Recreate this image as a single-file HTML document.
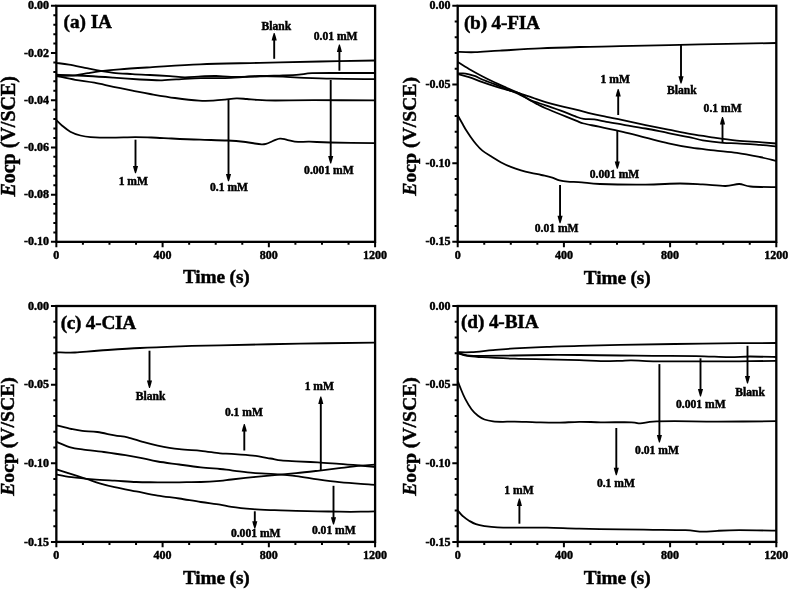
<!DOCTYPE html>
<html><head><meta charset="utf-8"><title>Eocp vs Time</title>
<style>html,body{margin:0;padding:0;background:#fff}svg{display:block;filter:blur(0.35px)}</style>
</head><body>
<svg width="789" height="590" viewBox="0 0 789 590" font-family='"Liberation Serif",serif' font-weight="bold" fill="#000" stroke="#000" stroke-width="0.45">
<rect width="789" height="590" fill="#fff" stroke="none"/>
<rect x="56.35" y="5.8" width="318.75" height="236.05" fill="none" stroke="#000" stroke-width="2.3"/>
<text x="49.05" y="9.4" font-size="12" text-anchor="end" >0.00</text>
<text x="49.05" y="56.61" font-size="12" text-anchor="end" >-0.02</text>
<text x="49.05" y="103.82" font-size="12" text-anchor="end" >-0.04</text>
<text x="49.05" y="151.03" font-size="12" text-anchor="end" >-0.06</text>
<text x="49.05" y="198.24" font-size="12" text-anchor="end" >-0.08</text>
<text x="49.05" y="245.45" font-size="12" text-anchor="end" >-0.10</text>
<text x="56.35" y="258.75" font-size="12" text-anchor="middle" >0</text>
<text x="162.6" y="258.75" font-size="12" text-anchor="middle" >400</text>
<text x="268.85" y="258.75" font-size="12" text-anchor="middle" >800</text>
<text x="375.1" y="258.75" font-size="12" text-anchor="middle" >1200</text>
<path d="M50.95,5.80H56.35 M53.35,15.24H56.35 M53.35,24.68H56.35 M53.35,34.13H56.35 M53.35,43.57H56.35 M50.95,53.01H56.35 M53.35,62.45H56.35 M53.35,71.89H56.35 M53.35,81.34H56.35 M53.35,90.78H56.35 M50.95,100.22H56.35 M53.35,109.66H56.35 M53.35,119.10H56.35 M53.35,128.55H56.35 M53.35,137.99H56.35 M50.95,147.43H56.35 M53.35,156.87H56.35 M53.35,166.31H56.35 M53.35,175.76H56.35 M53.35,185.20H56.35 M50.95,194.64H56.35 M53.35,204.08H56.35 M53.35,213.52H56.35 M53.35,222.97H56.35 M53.35,232.41H56.35 M50.95,241.85H56.35 M56.35,241.85V247.25 M82.91,241.85V244.85 M109.47,241.85V244.85 M136.04,241.85V244.85 M162.60,241.85V247.25 M189.16,241.85V244.85 M215.72,241.85V244.85 M242.29,241.85V244.85 M268.85,241.85V247.25 M295.41,241.85V244.85 M321.98,241.85V244.85 M348.54,241.85V244.85 M375.10,241.85V247.25" stroke="#000" stroke-width="2.0" fill="none"/>
<text x="216.23" y="282.75" font-size="19.3" text-anchor="middle" letter-spacing="-0.12">Time (s)</text>
<text transform="translate(14.55,136.325) rotate(-90)" font-size="20" text-anchor="middle"><tspan font-style="italic">E</tspan>ocp (V/SCE)</text>
<text x="63.55" y="27.7" font-size="19.3" text-anchor="start" letter-spacing="-0.05">(a) IA</text>
<path d="M56.4,76.0 C59.5,75.9 70.0,75.8 75.3,75.3 C80.6,74.8 83.8,73.8 88.0,73.1 C92.2,72.4 95.4,71.8 100.7,71.2 C106.0,70.6 111.5,70.0 119.7,69.3 C127.9,68.6 136.6,68.1 150.0,67.3 C163.4,66.5 181.7,65.0 200.0,64.3 C218.3,63.5 240.0,63.3 260.0,62.8 C280.0,62.3 300.8,61.9 320.0,61.5 C339.2,61.1 365.9,60.7 375.1,60.5" fill="none" stroke="#000" stroke-width="1.8" stroke-linejoin="round"/>
<path d="M56.4,62.9 C58.5,63.2 63.7,63.7 69.0,64.6 C74.3,65.5 82.7,67.4 88.0,68.4 C93.3,69.5 96.5,70.2 100.7,70.9 C104.9,71.6 108.1,72.3 113.4,72.8 C118.7,73.3 126.3,73.7 132.4,74.1 C138.5,74.5 143.7,74.7 150.0,75.0 C156.3,75.3 164.2,75.8 170.0,76.2 C175.8,76.6 179.8,77.3 185.0,77.3 C190.2,77.3 195.8,76.6 201.0,76.4 C206.2,76.2 211.0,75.9 216.0,76.0 C221.0,76.1 225.3,76.7 231.0,76.8 C236.7,76.9 241.3,76.8 250.0,76.6 C258.7,76.4 274.8,75.7 283.0,75.4 C291.2,75.1 294.2,75.0 299.0,74.6 C303.8,74.2 305.2,73.5 312.0,73.2 C318.8,72.9 329.5,73.0 340.0,73.0 C350.5,73.0 369.2,73.0 375.1,73.0" fill="none" stroke="#000" stroke-width="1.8" stroke-linejoin="round"/>
<path d="M56.4,74.7 C61.6,74.9 78.5,75.5 88.0,76.0 C97.5,76.5 104.7,77.0 113.4,77.6 C122.1,78.2 131.9,79.0 140.0,79.5 C148.1,80.0 154.5,80.4 162.0,80.3 C169.5,80.2 178.5,79.1 185.0,78.8 C191.5,78.5 195.8,78.3 201.0,78.2 C206.2,78.1 211.0,78.3 216.0,78.2 C221.0,78.1 226.2,78.0 231.0,77.8 C235.8,77.6 240.2,77.1 245.0,76.8 C249.8,76.5 253.7,76.0 260.0,76.0 C266.3,76.0 276.5,76.3 283.0,76.6 C289.5,76.9 290.8,77.2 299.0,77.6 C307.2,77.9 319.3,78.4 332.0,78.7 C344.7,79.0 367.9,79.1 375.1,79.2" fill="none" stroke="#000" stroke-width="1.8" stroke-linejoin="round"/>
<path d="M56.4,76.0 C59.5,76.6 69.0,78.7 75.3,79.8 C81.6,80.9 88.1,81.5 94.4,82.7 C100.8,83.9 107.1,85.5 113.4,86.8 C119.7,88.1 126.3,89.4 132.4,90.6 C138.5,91.8 142.9,92.8 150.0,94.0 C157.1,95.2 166.8,96.9 175.0,98.0 C183.2,99.1 192.7,100.2 199.0,100.6 C205.3,101.0 208.7,100.8 213.0,100.6 C217.3,100.4 221.1,100.0 225.0,99.6 C228.9,99.2 232.8,98.5 236.5,98.4 C240.2,98.3 243.6,98.8 247.0,99.0 C250.4,99.2 252.3,99.7 257.0,99.9 C261.7,100.2 265.8,100.5 275.3,100.5 C284.8,100.5 297.4,100.2 314.0,100.2 C330.6,100.2 364.9,100.3 375.1,100.3" fill="none" stroke="#000" stroke-width="1.8" stroke-linejoin="round"/>
<path d="M56.4,120.2 C57.3,121.1 59.9,123.8 62.2,125.7 C64.5,127.6 67.3,130.1 70.3,131.7 C73.3,133.3 77.0,134.6 80.4,135.5 C83.8,136.4 85.5,136.8 90.6,137.1 C95.7,137.4 103.4,137.6 110.8,137.6 C118.2,137.6 128.4,137.1 135.2,137.1 C142.0,137.1 145.3,137.3 151.4,137.5 C157.5,137.7 163.6,138.1 171.7,138.5 C179.8,138.9 190.7,139.4 200.0,139.7 C209.3,140.0 219.8,140.1 227.4,140.5 C235.0,140.9 241.0,141.5 245.6,142.0 C250.2,142.5 252.1,143.1 254.8,143.5 C257.5,143.9 259.7,144.2 261.6,144.3 C263.5,144.4 264.5,144.2 266.0,143.8 C267.5,143.4 269.1,142.7 270.7,142.0 C272.3,141.3 274.0,140.5 275.5,139.9 C277.0,139.3 278.4,138.8 279.9,138.7 C281.4,138.6 283.0,138.8 284.5,139.1 C286.0,139.4 286.7,139.8 289.0,140.3 C291.3,140.8 294.7,141.7 298.1,141.9 C301.5,142.1 304.2,141.6 309.5,141.7 C314.8,141.8 319.1,142.2 330.0,142.5 C340.9,142.8 367.6,143.1 375.1,143.2" fill="none" stroke="#000" stroke-width="1.8" stroke-linejoin="round"/>
<line x1="274.2" y1="58.8" x2="274.2" y2="39.40" stroke="#000" stroke-width="1.9"/><path d="M271.65,40.40L276.75,40.40Q275.78,36.33 274.65,33.00L273.75,33.00Q272.62,36.33 271.65,40.40Z" fill="#000" stroke="none"/>
<line x1="339.4" y1="70.7" x2="339.4" y2="51.00" stroke="#000" stroke-width="1.9"/><path d="M336.85,52.00L341.95,52.00Q340.98,47.93 339.85,44.60L338.95,44.60Q337.82,47.93 336.85,52.00Z" fill="#000" stroke="none"/>
<line x1="135.5" y1="139.7" x2="135.5" y2="166.90" stroke="#000" stroke-width="1.9"/><path d="M132.95,165.90L138.05,165.90Q137.08,169.97 135.95,173.30L135.05,173.30Q133.92,169.97 132.95,165.90Z" fill="#000" stroke="none"/>
<line x1="228.5" y1="100" x2="228.5" y2="174.90" stroke="#000" stroke-width="1.9"/><path d="M225.95,173.90L231.05,173.90Q230.08,177.97 228.95,181.30L228.05,181.30Q226.92,177.97 225.95,173.90Z" fill="#000" stroke="none"/>
<line x1="330.7" y1="80" x2="330.7" y2="157.00" stroke="#000" stroke-width="1.9"/><path d="M328.15,156.00L333.25,156.00Q332.28,160.07 331.15,163.40L330.25,163.40Q329.12,160.07 328.15,156.00Z" fill="#000" stroke="none"/>
<text x="276.3" y="30.0" font-size="11.6" text-anchor="middle" >Blank</text>
<text x="335.6" y="39.6" font-size="11.6" text-anchor="middle" >0.01 mM</text>
<text x="133.3" y="184.9" font-size="11.6" text-anchor="middle" >1 mM</text>
<text x="229" y="191.3" font-size="11.6" text-anchor="middle" >0.1 mM</text>
<text x="328.9" y="174.3" font-size="11.6" text-anchor="middle" >0.001 mM</text>
<rect x="457.7" y="5.8" width="318.60" height="236.05" fill="none" stroke="#000" stroke-width="2.3"/>
<text x="450.4" y="9.4" font-size="12" text-anchor="end" >0.00</text>
<text x="450.4" y="88.08" font-size="12" text-anchor="end" >-0.05</text>
<text x="450.4" y="166.77" font-size="12" text-anchor="end" >-0.10</text>
<text x="450.4" y="245.45" font-size="12" text-anchor="end" >-0.15</text>
<text x="457.7" y="258.75" font-size="12" text-anchor="middle" >0</text>
<text x="563.9" y="258.75" font-size="12" text-anchor="middle" >400</text>
<text x="670.1" y="258.75" font-size="12" text-anchor="middle" >800</text>
<text x="776.3" y="258.75" font-size="12" text-anchor="middle" >1200</text>
<path d="M452.3,5.80H457.7 M454.7,21.54H457.7 M454.7,37.27H457.7 M454.7,53.01H457.7 M454.7,68.75H457.7 M452.3,84.48H457.7 M454.7,100.22H457.7 M454.7,115.96H457.7 M454.7,131.69H457.7 M454.7,147.43H457.7 M452.3,163.17H457.7 M454.7,178.90H457.7 M454.7,194.64H457.7 M454.7,210.38H457.7 M454.7,226.11H457.7 M452.3,241.85H457.7 M457.70,241.85V247.25 M484.25,241.85V244.85 M510.80,241.85V244.85 M537.35,241.85V244.85 M563.90,241.85V247.25 M590.45,241.85V244.85 M617.00,241.85V244.85 M643.55,241.85V244.85 M670.10,241.85V247.25 M696.65,241.85V244.85 M723.20,241.85V244.85 M749.75,241.85V244.85 M776.30,241.85V247.25" stroke="#000" stroke-width="2.0" fill="none"/>
<text x="617.2" y="284.05" font-size="19.3" text-anchor="middle" letter-spacing="-0.12">Time (s)</text>
<text transform="translate(416.2,136.325) rotate(-90)" font-size="19.7" text-anchor="middle"><tspan font-style="italic">E</tspan>ocp (V/SCE)</text>
<text x="463.9" y="28.7" font-size="19.3" text-anchor="start" letter-spacing="-0.2">(b) 4-FIA</text>
<path d="M457.7,51.9 C460.6,52.0 467.9,52.4 475.0,52.2 C482.1,52.0 489.2,51.2 500.0,50.6 C510.8,50.0 526.7,49.0 540.0,48.4 C553.3,47.8 566.7,47.4 580.0,47.0 C593.3,46.6 600.0,46.6 620.0,46.2 C640.0,45.8 674.0,44.9 700.0,44.4 C726.0,43.9 763.6,43.2 776.3,43.0" fill="none" stroke="#000" stroke-width="1.8" stroke-linejoin="round"/>
<path d="M457.7,74.0 C459.6,74.5 465.0,75.9 469.0,77.2 C473.0,78.5 477.5,80.4 481.7,81.9 C485.9,83.4 490.2,84.8 494.4,86.1 C498.6,87.4 502.8,88.7 507.0,89.9 C511.2,91.1 515.5,92.0 519.7,93.3 C523.9,94.6 528.1,96.1 532.4,97.6 C536.7,99.1 540.9,100.8 545.6,102.2 C550.3,103.6 555.7,105.0 560.8,106.2 C565.9,107.4 570.9,108.4 576.0,109.6 C581.1,110.8 586.2,112.4 591.3,113.6 C596.4,114.8 601.2,115.7 606.5,116.8 C611.8,117.9 616.3,118.7 622.8,120.1 C629.3,121.5 638.0,123.5 645.6,125.1 C653.2,126.7 660.8,128.2 668.4,129.7 C676.0,131.2 683.7,132.9 691.3,134.2 C698.9,135.5 706.4,136.5 714.0,137.6 C721.6,138.7 729.3,139.8 736.9,140.6 C744.5,141.4 753.1,141.7 759.7,142.2 C766.3,142.7 773.5,143.3 776.3,143.5" fill="none" stroke="#000" stroke-width="1.8" stroke-linejoin="round"/>
<path d="M457.7,73.4 C458.6,73.4 461.1,73.2 463.0,73.3 C464.9,73.4 466.9,73.8 469.0,74.3 C471.1,74.8 473.2,75.3 475.3,76.1 C477.4,76.9 478.5,77.8 481.7,79.2 C484.9,80.6 490.2,82.5 494.4,84.2 C498.6,85.9 502.8,87.6 507.0,89.3 C511.2,91.0 515.8,92.8 519.7,94.6 C523.6,96.4 526.1,98.3 530.4,100.1 C534.7,101.9 540.5,103.6 545.6,105.4 C550.7,107.2 555.7,108.8 560.8,110.7 C565.9,112.6 572.2,115.2 576.0,116.6 C579.8,118.0 580.7,118.4 583.7,118.9 C586.8,119.4 590.5,118.9 594.3,119.4 C598.1,119.9 601.8,120.9 606.5,121.8 C611.2,122.7 616.3,123.5 622.8,124.6 C629.3,125.7 638.0,127.1 645.6,128.5 C653.2,129.9 660.8,131.6 668.4,133.1 C676.0,134.6 685.6,136.4 691.3,137.6 C697.0,138.8 697.4,139.5 702.7,140.4 C708.0,141.3 717.5,142.4 723.2,142.9 C728.9,143.4 730.8,143.0 736.9,143.3 C743.0,143.6 753.1,144.4 759.7,144.9 C766.3,145.4 773.5,146.2 776.3,146.5" fill="none" stroke="#000" stroke-width="1.8" stroke-linejoin="round"/>
<path d="M457.7,62.0 C459.6,63.2 465.0,66.7 469.0,69.0 C473.0,71.3 477.5,73.8 481.7,76.0 C485.9,78.2 490.2,80.3 494.4,82.3 C498.6,84.3 502.8,86.1 507.0,88.0 C511.2,89.9 515.8,91.5 519.7,93.6 C523.6,95.7 527.4,98.7 530.4,100.5 C533.4,102.3 535.5,103.2 538.0,104.5 C540.5,105.8 541.8,106.6 545.6,108.3 C549.4,110.0 555.7,112.5 560.8,114.5 C565.9,116.5 572.2,119.1 576.0,120.6 C579.8,122.1 579.9,122.5 583.7,123.5 C587.5,124.5 592.4,125.3 598.9,126.7 C605.4,128.1 615.0,130.1 622.8,131.9 C630.6,133.7 638.0,135.7 645.6,137.6 C653.2,139.5 660.8,141.6 668.4,143.3 C676.0,145.0 683.7,146.5 691.3,147.7 C698.9,148.9 706.4,149.5 714.0,150.4 C721.6,151.3 729.3,151.8 736.9,152.9 C744.5,154.0 753.1,155.7 759.7,157.0 C766.3,158.3 773.5,160.2 776.3,160.8" fill="none" stroke="#000" stroke-width="1.8" stroke-linejoin="round"/>
<path d="M457.7,115.2 C458.4,116.5 460.8,120.8 462.2,123.3 C463.6,125.8 464.8,128.1 466.2,130.3 C467.6,132.5 468.6,134.0 470.3,136.4 C472.0,138.8 474.4,142.1 476.4,144.5 C478.4,146.9 480.0,148.7 482.4,150.6 C484.8,152.5 487.6,154.2 490.6,156.1 C493.7,158.0 497.3,160.4 500.7,162.2 C504.1,164.0 507.4,165.6 510.8,166.9 C514.2,168.2 517.6,169.3 521.0,170.3 C524.4,171.3 527.7,172.1 531.1,172.9 C534.5,173.7 537.9,174.2 541.3,175.0 C544.7,175.8 548.4,176.5 551.4,177.4 C554.4,178.3 556.8,179.7 559.5,180.4 C562.2,181.1 563.9,181.4 567.6,181.7 C571.3,182.0 576.4,181.9 581.8,182.3 C587.2,182.7 589.4,183.6 600.0,184.0 C610.6,184.4 632.3,184.7 645.6,184.6 C658.9,184.5 670.5,183.5 680.0,183.5 C689.5,183.5 695.1,184.0 702.7,184.4 C710.3,184.8 719.4,186.1 725.5,186.0 C731.6,185.9 735.0,183.9 739.2,184.0 C743.4,184.1 744.4,186.0 750.6,186.5 C756.8,187.0 772.0,187.1 776.3,187.2" fill="none" stroke="#000" stroke-width="1.8" stroke-linejoin="round"/>
<line x1="618.2" y1="115" x2="618.2" y2="95.50" stroke="#000" stroke-width="1.9"/><path d="M615.65,96.50L620.75,96.50Q619.78,92.43 618.65,89.10L617.75,89.10Q616.62,92.43 615.65,96.50Z" fill="#000" stroke="none"/>
<line x1="681" y1="45" x2="681" y2="77.20" stroke="#000" stroke-width="1.9"/><path d="M678.45,76.20L683.55,76.20Q682.58,80.27 681.45,83.60L680.55,83.60Q679.42,80.27 678.45,76.20Z" fill="#000" stroke="none"/>
<line x1="722.5" y1="142.9" x2="722.5" y2="123.50" stroke="#000" stroke-width="1.9"/><path d="M719.95,124.50L725.05,124.50Q724.08,120.43 722.95,117.10L722.05,117.10Q720.92,120.43 719.95,124.50Z" fill="#000" stroke="none"/>
<line x1="617.3" y1="130.2" x2="617.3" y2="162.40" stroke="#000" stroke-width="1.9"/><path d="M614.75,161.40L619.85,161.40Q618.88,165.47 617.75,168.80L616.85,168.80Q615.72,165.47 614.75,161.40Z" fill="#000" stroke="none"/>
<line x1="560.05" y1="184.9" x2="560.05" y2="216.80" stroke="#000" stroke-width="1.9"/><path d="M557.50,215.80L562.60,215.80Q561.63,219.87 560.50,223.20L559.60,223.20Q558.47,219.87 557.50,215.80Z" fill="#000" stroke="none"/>
<text x="615.2" y="83.2" font-size="11.6" text-anchor="middle" >1 mM</text>
<text x="681.8" y="94.0" font-size="11.6" text-anchor="middle" >Blank</text>
<text x="722.6" y="112.0" font-size="11.6" text-anchor="middle" >0.1 mM</text>
<text x="614.5" y="178.2" font-size="11.6" text-anchor="middle" >0.001 mM</text>
<text x="556.6" y="231.6" font-size="11.6" text-anchor="middle" >0.01 mM</text>
<rect x="56.35" y="306.0" width="318.75" height="235.90" fill="none" stroke="#000" stroke-width="2.3"/>
<text x="49.05" y="309.6" font-size="12" text-anchor="end" >0.00</text>
<text x="49.05" y="388.23" font-size="12" text-anchor="end" >-0.05</text>
<text x="49.05" y="466.87" font-size="12" text-anchor="end" >-0.10</text>
<text x="49.05" y="545.5" font-size="12" text-anchor="end" >-0.15</text>
<text x="56.35" y="558.8" font-size="12" text-anchor="middle" >0</text>
<text x="162.6" y="558.8" font-size="12" text-anchor="middle" >400</text>
<text x="268.85" y="558.8" font-size="12" text-anchor="middle" >800</text>
<text x="375.1" y="558.8" font-size="12" text-anchor="middle" >1200</text>
<path d="M50.95,306.00H56.35 M53.35,321.73H56.35 M53.35,337.45H56.35 M53.35,353.18H56.35 M53.35,368.91H56.35 M50.95,384.63H56.35 M53.35,400.36H56.35 M53.35,416.09H56.35 M53.35,431.81H56.35 M53.35,447.54H56.35 M50.95,463.27H56.35 M53.35,478.99H56.35 M53.35,494.72H56.35 M53.35,510.45H56.35 M53.35,526.17H56.35 M50.95,541.90H56.35 M56.35,541.9V547.3 M82.91,541.9V544.9 M109.47,541.9V544.9 M136.04,541.9V544.9 M162.60,541.9V547.3 M189.16,541.9V544.9 M215.72,541.9V544.9 M242.29,541.9V544.9 M268.85,541.9V547.3 M295.41,541.9V544.9 M321.98,541.9V544.9 M348.54,541.9V544.9 M375.10,541.9V547.3" stroke="#000" stroke-width="2.0" fill="none"/>
<text x="216.23" y="584.1" font-size="19.3" text-anchor="middle" letter-spacing="-0.12">Time (s)</text>
<text transform="translate(14.15,436.45) rotate(-90)" font-size="19.7" text-anchor="middle"><tspan font-style="italic">E</tspan>ocp (V/SCE)</text>
<text x="60.65" y="328.6" font-size="19.3" text-anchor="start" letter-spacing="-0.25">(c) 4-CIA</text>
<path d="M56.4,352.3 C59.5,352.3 67.7,352.8 75.0,352.5 C82.3,352.2 89.2,351.2 100.0,350.5 C110.8,349.8 126.7,348.7 140.0,348.0 C153.3,347.3 166.7,346.8 180.0,346.3 C193.3,345.9 200.0,345.7 220.0,345.3 C240.0,344.9 274.1,344.1 300.0,343.7 C325.9,343.2 362.6,342.8 375.1,342.6" fill="none" stroke="#000" stroke-width="1.8" stroke-linejoin="round"/>
<path d="M56.4,425.3 C58.9,425.9 67.2,428.1 71.5,429.0 C75.8,429.9 78.0,430.4 82.3,430.9 C86.6,431.4 92.0,431.2 97.4,432.0 C102.8,432.8 109.6,434.5 114.6,435.4 C119.6,436.3 122.9,436.3 127.6,437.4 C132.3,438.5 137.7,440.5 142.7,441.9 C147.7,443.3 151.6,444.4 157.7,445.6 C163.8,446.8 172.1,448.3 179.3,449.2 C186.5,450.1 194.0,450.2 200.8,450.9 C207.6,451.6 214.9,452.8 220.0,453.3 C225.1,453.8 226.0,453.5 231.5,453.9 C237.0,454.3 246.6,454.9 253.1,455.7 C259.6,456.5 265.6,457.7 270.3,458.5 C275.0,459.3 276.8,459.9 281.1,460.4 C285.4,460.9 290.1,461.0 296.2,461.3 C302.3,461.6 310.5,462.0 317.7,462.4 C324.9,462.8 332.1,463.4 339.3,463.9 C346.5,464.4 354.8,465.1 360.8,465.6 C366.8,466.1 372.7,466.8 375.1,467.0" fill="none" stroke="#000" stroke-width="1.8" stroke-linejoin="round"/>
<path d="M56.4,441.8 C58.9,442.8 67.2,446.4 71.5,447.7 C75.8,449.0 76.9,448.7 82.3,449.4 C87.7,450.1 96.7,451.0 103.9,452.0 C111.1,453.0 119.3,454.2 125.4,455.2 C131.5,456.2 135.1,456.8 140.5,457.8 C145.9,458.9 151.2,460.4 157.7,461.5 C164.2,462.6 172.1,463.5 179.3,464.5 C186.5,465.5 194.0,466.6 200.8,467.3 C207.6,468.1 214.9,468.5 220.0,469.0 C225.1,469.5 226.0,469.7 231.5,470.3 C237.0,470.9 245.9,472.2 253.1,472.9 C260.3,473.5 267.4,473.7 274.6,474.2 C281.8,474.7 289.0,475.2 296.2,476.1 C303.4,477.0 310.5,478.4 317.7,479.4 C324.9,480.4 332.1,481.4 339.3,482.2 C346.5,482.9 354.8,483.5 360.8,483.9 C366.8,484.3 372.7,484.6 375.1,484.8" fill="none" stroke="#000" stroke-width="1.8" stroke-linejoin="round"/>
<path d="M56.4,474.4 C58.9,474.9 65.4,476.4 71.5,477.2 C77.6,478.0 85.9,478.8 93.1,479.4 C100.3,480.0 107.4,480.3 114.6,480.7 C121.8,481.1 129.0,481.7 136.2,482.0 C143.4,482.3 150.5,482.2 157.7,482.3 C164.9,482.4 172.1,482.4 179.3,482.3 C186.5,482.2 194.0,482.2 200.8,482.0 C207.6,481.8 214.9,481.3 220.0,480.9 C225.1,480.5 226.0,480.1 231.5,479.5 C237.0,478.9 245.9,477.9 253.1,477.2 C260.3,476.5 267.4,475.8 274.6,475.1 C281.8,474.4 289.0,473.8 296.2,473.1 C303.4,472.4 310.5,471.6 317.7,470.8 C324.9,470.0 332.1,469.1 339.3,468.2 C346.5,467.3 354.8,466.2 360.8,465.6 C366.8,465.0 372.7,464.8 375.1,464.6" fill="none" stroke="#000" stroke-width="1.8" stroke-linejoin="round"/>
<path d="M56.4,469.4 C58.9,470.2 66.5,472.6 71.5,474.2 C76.5,475.8 81.9,477.5 86.6,479.0 C91.3,480.5 94.9,481.9 99.6,483.3 C104.3,484.7 108.5,485.8 114.6,487.1 C120.7,488.5 129.0,490.0 136.2,491.4 C143.4,492.8 150.5,494.4 157.7,495.6 C164.9,496.8 172.1,497.4 179.3,498.5 C186.5,499.6 194.0,501.0 200.8,502.0 C207.6,503.0 214.9,503.8 220.0,504.6 C225.1,505.4 226.0,506.1 231.5,506.8 C237.0,507.6 245.9,508.5 253.1,509.1 C260.3,509.7 267.4,509.9 274.6,510.2 C281.8,510.5 289.0,510.6 296.2,510.8 C303.4,511.0 310.5,511.2 317.7,511.3 C324.9,511.4 332.1,511.6 339.3,511.7 C346.5,511.8 354.8,511.8 360.8,511.7 C366.8,511.6 372.7,511.4 375.1,511.3" fill="none" stroke="#000" stroke-width="1.8" stroke-linejoin="round"/>
<line x1="149.5" y1="350.7" x2="149.5" y2="381.50" stroke="#000" stroke-width="1.9"/><path d="M146.95,380.50L152.05,380.50Q151.08,384.57 149.95,387.90L149.05,387.90Q147.92,384.57 146.95,380.50Z" fill="#000" stroke="none"/>
<line x1="244.3" y1="450.5" x2="244.3" y2="430.40" stroke="#000" stroke-width="1.9"/><path d="M241.75,431.40L246.85,431.40Q245.88,427.33 244.75,424.00L243.85,424.00Q242.72,427.33 241.75,431.40Z" fill="#000" stroke="none"/>
<line x1="320.8" y1="470.5" x2="320.8" y2="403.00" stroke="#000" stroke-width="1.9"/><path d="M318.25,404.00L323.35,404.00Q322.38,399.93 321.25,396.60L320.35,396.60Q319.22,399.93 318.25,404.00Z" fill="#000" stroke="none"/>
<line x1="333.5" y1="485.8" x2="333.5" y2="518.20" stroke="#000" stroke-width="1.9"/><path d="M330.95,517.20L336.05,517.20Q335.08,521.27 333.95,524.60L333.05,524.60Q331.92,521.27 330.95,517.20Z" fill="#000" stroke="none"/>
<line x1="254.8" y1="511.3" x2="254.8" y2="522.20" stroke="#000" stroke-width="1.9"/><path d="M252.25,521.20L257.35,521.20Q256.38,525.27 255.25,528.60L254.35,528.60Q253.22,525.27 252.25,521.20Z" fill="#000" stroke="none"/>
<text x="150.6" y="399.9" font-size="11.6" text-anchor="middle" >Blank</text>
<text x="243.9" y="416.2" font-size="11.6" text-anchor="middle" >0.1 mM</text>
<text x="319.3" y="390.4" font-size="11.6" text-anchor="middle" >1 mM</text>
<text x="333.8" y="534.3" font-size="11.6" text-anchor="middle" >0.01 mM</text>
<text x="255.7" y="536.9" font-size="11.6" text-anchor="middle" >0.001 mM</text>
<rect x="457.7" y="306.0" width="318.60" height="235.90" fill="none" stroke="#000" stroke-width="2.3"/>
<text x="450.4" y="309.6" font-size="12" text-anchor="end" >0.00</text>
<text x="450.4" y="388.23" font-size="12" text-anchor="end" >-0.05</text>
<text x="450.4" y="466.87" font-size="12" text-anchor="end" >-0.10</text>
<text x="450.4" y="545.5" font-size="12" text-anchor="end" >-0.15</text>
<text x="457.7" y="558.8" font-size="12" text-anchor="middle" >0</text>
<text x="563.9" y="558.8" font-size="12" text-anchor="middle" >400</text>
<text x="670.1" y="558.8" font-size="12" text-anchor="middle" >800</text>
<text x="776.3" y="558.8" font-size="12" text-anchor="middle" >1200</text>
<path d="M452.3,306.00H457.7 M454.7,321.73H457.7 M454.7,337.45H457.7 M454.7,353.18H457.7 M454.7,368.91H457.7 M452.3,384.63H457.7 M454.7,400.36H457.7 M454.7,416.09H457.7 M454.7,431.81H457.7 M454.7,447.54H457.7 M452.3,463.27H457.7 M454.7,478.99H457.7 M454.7,494.72H457.7 M454.7,510.45H457.7 M454.7,526.17H457.7 M452.3,541.90H457.7 M457.70,541.9V547.3 M484.25,541.9V544.9 M510.80,541.9V544.9 M537.35,541.9V544.9 M563.90,541.9V547.3 M590.45,541.9V544.9 M617.00,541.9V544.9 M643.55,541.9V544.9 M670.10,541.9V547.3 M696.65,541.9V544.9 M723.20,541.9V544.9 M749.75,541.9V544.9 M776.30,541.9V547.3" stroke="#000" stroke-width="2.0" fill="none"/>
<text x="617.2" y="584.1" font-size="19.3" text-anchor="middle" letter-spacing="-0.12">Time (s)</text>
<text transform="translate(416.2,436.45) rotate(-90)" font-size="19.7" text-anchor="middle"><tspan font-style="italic">E</tspan>ocp (V/SCE)</text>
<text x="461.1" y="327.8" font-size="19.3" text-anchor="start" letter-spacing="-0.15">(d) 4-BIA</text>
<path d="M457.7,352.2 C460.0,352.2 465.6,352.5 471.5,352.2 C477.4,351.9 485.9,350.7 493.1,350.1 C500.3,349.5 505.6,348.9 514.6,348.4 C523.6,347.9 536.2,347.3 547.0,346.9 C557.8,346.5 567.1,346.1 579.3,345.8 C591.5,345.5 604.1,345.2 620.0,344.9 C635.9,344.6 654.7,344.3 674.6,344.0 C694.5,343.7 722.3,343.4 739.3,343.2 C756.2,343.0 770.1,343.0 776.3,343.0" fill="none" stroke="#000" stroke-width="1.8" stroke-linejoin="round"/>
<path d="M457.7,353.0 C459.3,353.4 463.1,354.8 467.2,355.3 C471.3,355.8 474.4,355.9 482.3,355.9 C490.2,355.9 503.8,355.6 514.6,355.5 C525.4,355.4 536.2,355.1 547.0,355.0 C557.8,354.9 567.1,354.9 579.3,355.0 C591.5,355.1 607.7,355.4 620.0,355.5 C632.3,355.6 640.4,355.8 653.1,355.9 C665.8,356.0 683.6,355.9 696.2,356.1 C708.8,356.3 719.5,357.1 728.5,357.2 C737.5,357.3 742.0,356.5 750.0,356.5 C758.0,356.5 771.9,356.9 776.3,357.0" fill="none" stroke="#000" stroke-width="1.8" stroke-linejoin="round"/>
<path d="M457.7,353.0 C459.3,353.5 463.1,355.2 467.2,355.9 C471.3,356.6 474.4,356.7 482.3,357.2 C490.2,357.7 503.8,358.3 514.6,358.7 C525.4,359.1 536.2,359.1 547.0,359.3 C557.8,359.6 570.3,359.9 579.3,360.2 C588.3,360.5 594.0,361.0 600.8,361.1 C607.6,361.2 614.9,361.0 620.0,360.9 C625.1,360.8 626.0,360.3 631.5,360.4 C637.0,360.5 642.3,361.1 653.1,361.3 C663.9,361.5 681.8,361.3 696.2,361.3 C710.6,361.3 725.9,361.4 739.3,361.3 C752.6,361.2 770.1,361.0 776.3,360.9" fill="none" stroke="#000" stroke-width="1.8" stroke-linejoin="round"/>
<path d="M457.7,380.7 C458.2,382.1 459.6,385.9 460.8,388.9 C462.0,391.9 463.3,395.2 465.1,398.6 C466.9,402.0 469.4,406.4 471.5,409.3 C473.6,412.2 475.8,414.1 478.0,415.8 C480.2,417.5 482.0,418.6 484.5,419.5 C487.0,420.4 490.0,421.0 493.1,421.4 C496.2,421.8 499.4,421.8 503.0,421.8 C506.6,421.8 509.1,421.5 514.6,421.6 C520.1,421.7 529.0,422.1 536.2,422.3 C543.4,422.5 550.5,422.8 557.7,422.7 C564.9,422.6 572.1,421.9 579.3,421.8 C586.5,421.7 592.1,422.2 600.8,422.3 C609.5,422.4 624.9,422.1 631.5,422.3 C638.1,422.5 636.6,423.5 640.2,423.4 C643.8,423.3 647.4,422.0 653.1,421.6 C658.8,421.2 663.8,421.2 674.6,421.2 C685.4,421.2 700.8,421.6 717.7,421.6 C734.7,421.6 766.5,421.3 776.3,421.2" fill="none" stroke="#000" stroke-width="1.8" stroke-linejoin="round"/>
<path d="M457.7,510.4 C458.6,511.4 460.9,514.5 462.9,516.2 C464.8,518.0 467.2,519.6 469.4,520.9 C471.6,522.2 473.4,523.3 475.9,524.2 C478.4,525.1 480.9,525.6 484.5,526.1 C488.1,526.6 491.6,527.1 497.4,527.4 C503.1,527.7 510.7,527.7 519.0,527.7 C527.3,527.8 537.0,527.5 547.0,527.7 C557.0,527.9 567.1,528.4 579.3,528.7 C591.5,529.0 607.7,529.2 620.0,529.4 C632.3,529.6 642.2,529.7 653.1,529.8 C664.0,529.9 677.1,529.9 685.4,530.2 C693.7,530.5 697.3,531.6 702.7,531.7 C708.1,531.8 711.6,531.0 717.7,530.8 C723.8,530.5 729.5,530.2 739.3,530.2 C749.1,530.2 770.1,530.6 776.3,530.7" fill="none" stroke="#000" stroke-width="1.8" stroke-linejoin="round"/>
<line x1="519.4" y1="523.7" x2="519.4" y2="504.90" stroke="#000" stroke-width="1.9"/><path d="M516.85,505.90L521.95,505.90Q520.98,501.83 519.85,498.50L518.95,498.50Q517.82,501.83 516.85,505.90Z" fill="#000" stroke="none"/>
<line x1="616.3" y1="428" x2="616.3" y2="468.80" stroke="#000" stroke-width="1.9"/><path d="M613.75,467.80L618.85,467.80Q617.88,471.87 616.75,475.20L615.85,475.20Q614.72,471.87 613.75,467.80Z" fill="#000" stroke="none"/>
<line x1="659.4" y1="364.1" x2="659.4" y2="436.10" stroke="#000" stroke-width="1.9"/><path d="M656.85,435.10L661.95,435.10Q660.98,439.17 659.85,442.50L658.95,442.50Q657.82,439.17 656.85,435.10Z" fill="#000" stroke="none"/>
<line x1="700.5" y1="358.3" x2="700.5" y2="390.00" stroke="#000" stroke-width="1.9"/><path d="M697.95,389.00L703.05,389.00Q702.08,393.07 700.95,396.40L700.05,396.40Q698.92,393.07 697.95,389.00Z" fill="#000" stroke="none"/>
<line x1="747.5" y1="345.8" x2="747.5" y2="377.10" stroke="#000" stroke-width="1.9"/><path d="M744.95,376.10L750.05,376.10Q749.08,380.17 747.95,383.50L747.05,383.50Q745.92,380.17 744.95,376.10Z" fill="#000" stroke="none"/>
<text x="519" y="493.6" font-size="11.6" text-anchor="middle" >1 mM</text>
<text x="615.9" y="486.5" font-size="11.6" text-anchor="middle" >0.1 mM</text>
<text x="657" y="454.1" font-size="11.6" text-anchor="middle" >0.01 mM</text>
<text x="700.8" y="408.1" font-size="11.6" text-anchor="middle" >0.001 mM</text>
<text x="750.1" y="395.7" font-size="11.6" text-anchor="middle" >Blank</text>
</svg>
</body></html>
